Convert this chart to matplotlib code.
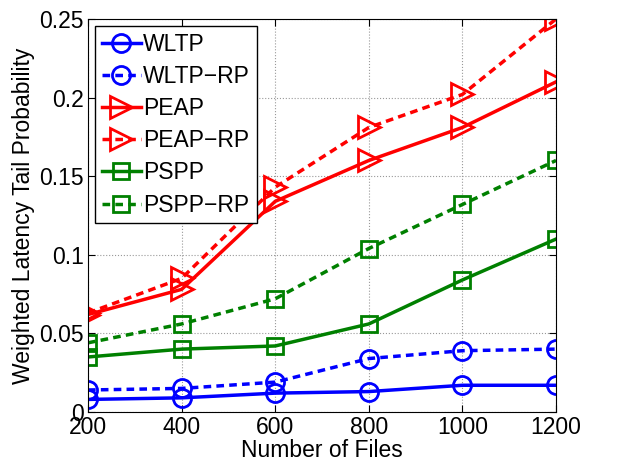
import matplotlib
matplotlib.use("Agg")
import matplotlib.pyplot as plt

plt.rcParams['font.family'] = ['Liberation Sans', 'DejaVu Sans']

files = [200, 400, 600, 800, 1000, 1200]
wltp = [0.008, 0.009, 0.012, 0.013, 0.017, 0.017]
wltp_rp = [0.014, 0.015, 0.019, 0.034, 0.039, 0.040]
peap = [0.062, 0.078, 0.134, 0.160, 0.181, 0.210]
peap_rp = [0.063, 0.085, 0.143, 0.181, 0.202, 0.250]
pspp = [0.035, 0.040, 0.042, 0.056, 0.084, 0.110]
pspp_rp = [0.044, 0.056, 0.072, 0.104, 0.132, 0.160]

yticks = [0, 0.05, 0.1, 0.15, 0.2, 0.25]
ytick_labels = ['0', '0.05', '0.1', '0.15', '0.2', '0.25']

fig = plt.figure(figsize=(6.18, 4.61), dpi=100)
ax = fig.add_axes([0.1424, 0.1063, 0.7573, 0.8525])

green = '#008000'
dash = (2.2, 1.5)
common = dict(mfc='none', mew=2, lw=2.5)
ax.plot(files, wltp, '-', color='blue', marker='o', ms=13, label='WLTP', **common)
ax.plot(files, wltp_rp, '--', dashes=dash, color='blue', marker='o', ms=13, label='WLTP\u2212RP', **common)
ax.plot(files, peap, '-', color='red', marker='>', ms=16, label='PEAP', **common)
ax.plot(files, peap_rp, '--', dashes=dash, color='red', marker='>', ms=16, label='PEAP\u2212RP', **common)
ax.plot(files, pspp, '-', color=green, marker='s', ms=11, label='PSPP', **common)
ax.plot(files, pspp_rp, '--', dashes=dash, color=green, marker='s', ms=11, label='PSPP\u2212RP', **common)

ax.set_xlim(200, 1200)
ax.set_ylim(0, 0.25)
ax.set_xticks(files)
ax.set_yticks(yticks)
ax.set_yticklabels(ytick_labels)
ax.tick_params(direction='in', labelsize=16.5, length=5, top=True, right=True, pad=3)
ax.grid(True, linestyle=':', color='#999999', lw=0.8)
ax.set_xlabel('Number of Files', fontsize=16.5, labelpad=0)
ax.set_ylabel('Weighted Latency Tail Probability', fontsize=16.5, labelpad=3)

leg = ax.legend(loc='upper left', fontsize=16.5, frameon=True, fancybox=False, numpoints=1,
                handlelength=1.7, handletextpad=0.1, borderpad=0.3, labelspacing=0.4,
                borderaxespad=0.3)
leg.get_frame().set_edgecolor('black')
leg.get_frame().set_linewidth(1)
leg.get_frame().set_alpha(1)

fig.savefig('out.png', dpi=100)
